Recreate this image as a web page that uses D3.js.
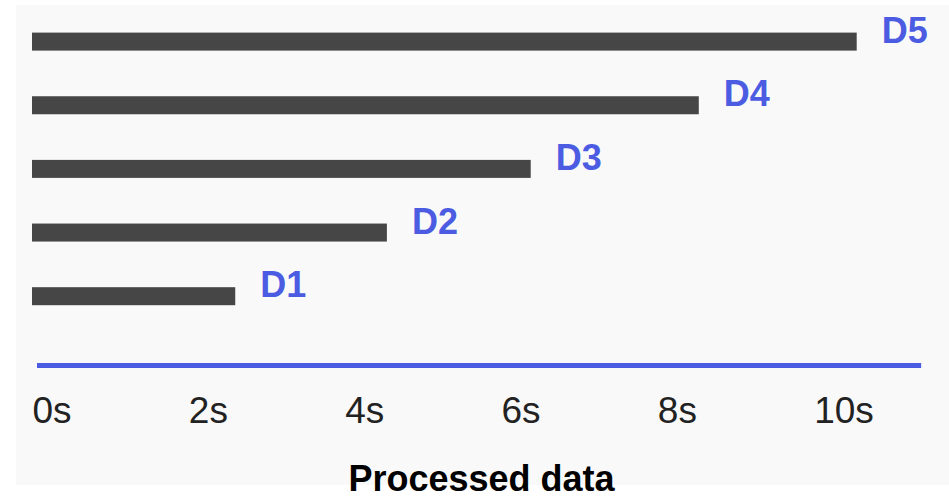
<!DOCTYPE html>
<html>
<head>
<meta charset="utf-8">
<script src="https://cdn.jsdelivr.net/npm/d3@7"></script>
<style>
  html, body { margin: 0; padding: 0; background: #ffffff; }
  svg { display: block; }
</style>
</head>
<body>
<svg id="chart" width="949" height="500"></svg>
<script>
// ---- data ----
const categories = ["D5", "D4", "D3", "D2", "D1"];
const durations = [10.55, 8.53, 6.38, 4.54, 2.6];   // seconds
const tickValues = [0, 2, 4, 6, 8, 10];
const tickLabels = ["0s", "2s", "4s", "6s", "8s", "10s"];
const axisMax = 11.4;
const title = "Processed data";

// ---- drawing ----
const svg = d3.select("#chart");
const W = 949, H = 500;

svg.append("rect")
  .attr("x", 16).attr("y", 5)
  .attr("width", W - 16).attr("height", 480)
  .attr("fill", "#f9f9f9");

const x = d3.scaleLinear().domain([0, axisMax]).range([32, 32 + axisMax * 78.17]);
const y = d3.scalePoint().domain(categories).range([41.6, 296.2]);
const barH = 18;
const blue = "#4b5be2";

const rows = categories.map((c, i) => ({ cat: c, v: durations[i] }));

svg.append("g").selectAll("rect")
  .data(rows)
  .join("rect")
  .attr("x", x(0))
  .attr("y", d => y(d.cat) - barH / 2)
  .attr("width", d => x(d.v) - x(0))
  .attr("height", barH)
  .attr("fill", "#464646");

svg.append("g").selectAll("text")
  .data(rows)
  .join("text")
  .attr("x", d => x(d.v) + 25)
  .attr("y", d => y(d.cat) + 1)
  .attr("fill", blue)
  .attr("font-family", "'Liberation Sans', Arial, sans-serif")
  .attr("font-weight", "bold")
  .attr("font-size", 36)
  .text(d => d.cat);

const axisY = 365.5;
const axis = d3.axisBottom(x)
  .tickValues(tickValues)
  .tickSize(0)
  .tickFormat((d, i) => tickLabels[i]);

const gAxis = svg.append("g")
  .attr("transform", `translate(0,${axisY})`)
  .call(axis);

gAxis.select(".domain")
  .attr("stroke", blue)
  .attr("stroke-width", 5)
  .attr("d", `M${x(0) + 5},0H${x(axisMax) - 2}`);

gAxis.selectAll(".tick text")
  .attr("text-anchor", "start")
  .attr("y", 57.5)
  .attr("dy", 0)
  .attr("fill", "#222")
  .attr("font-family", "'Liberation Sans', Arial, sans-serif")
  .attr("font-size", 37);

svg.append("text")
  .attr("x", 481.5)
  .attr("y", 491)
  .attr("text-anchor", "middle")
  .attr("font-family", "'Liberation Sans', Arial, sans-serif")
  .attr("font-weight", "bold")
  .attr("font-size", 36)
  .attr("fill", "#000")
  .text(title);
</script>
</body>
</html>
